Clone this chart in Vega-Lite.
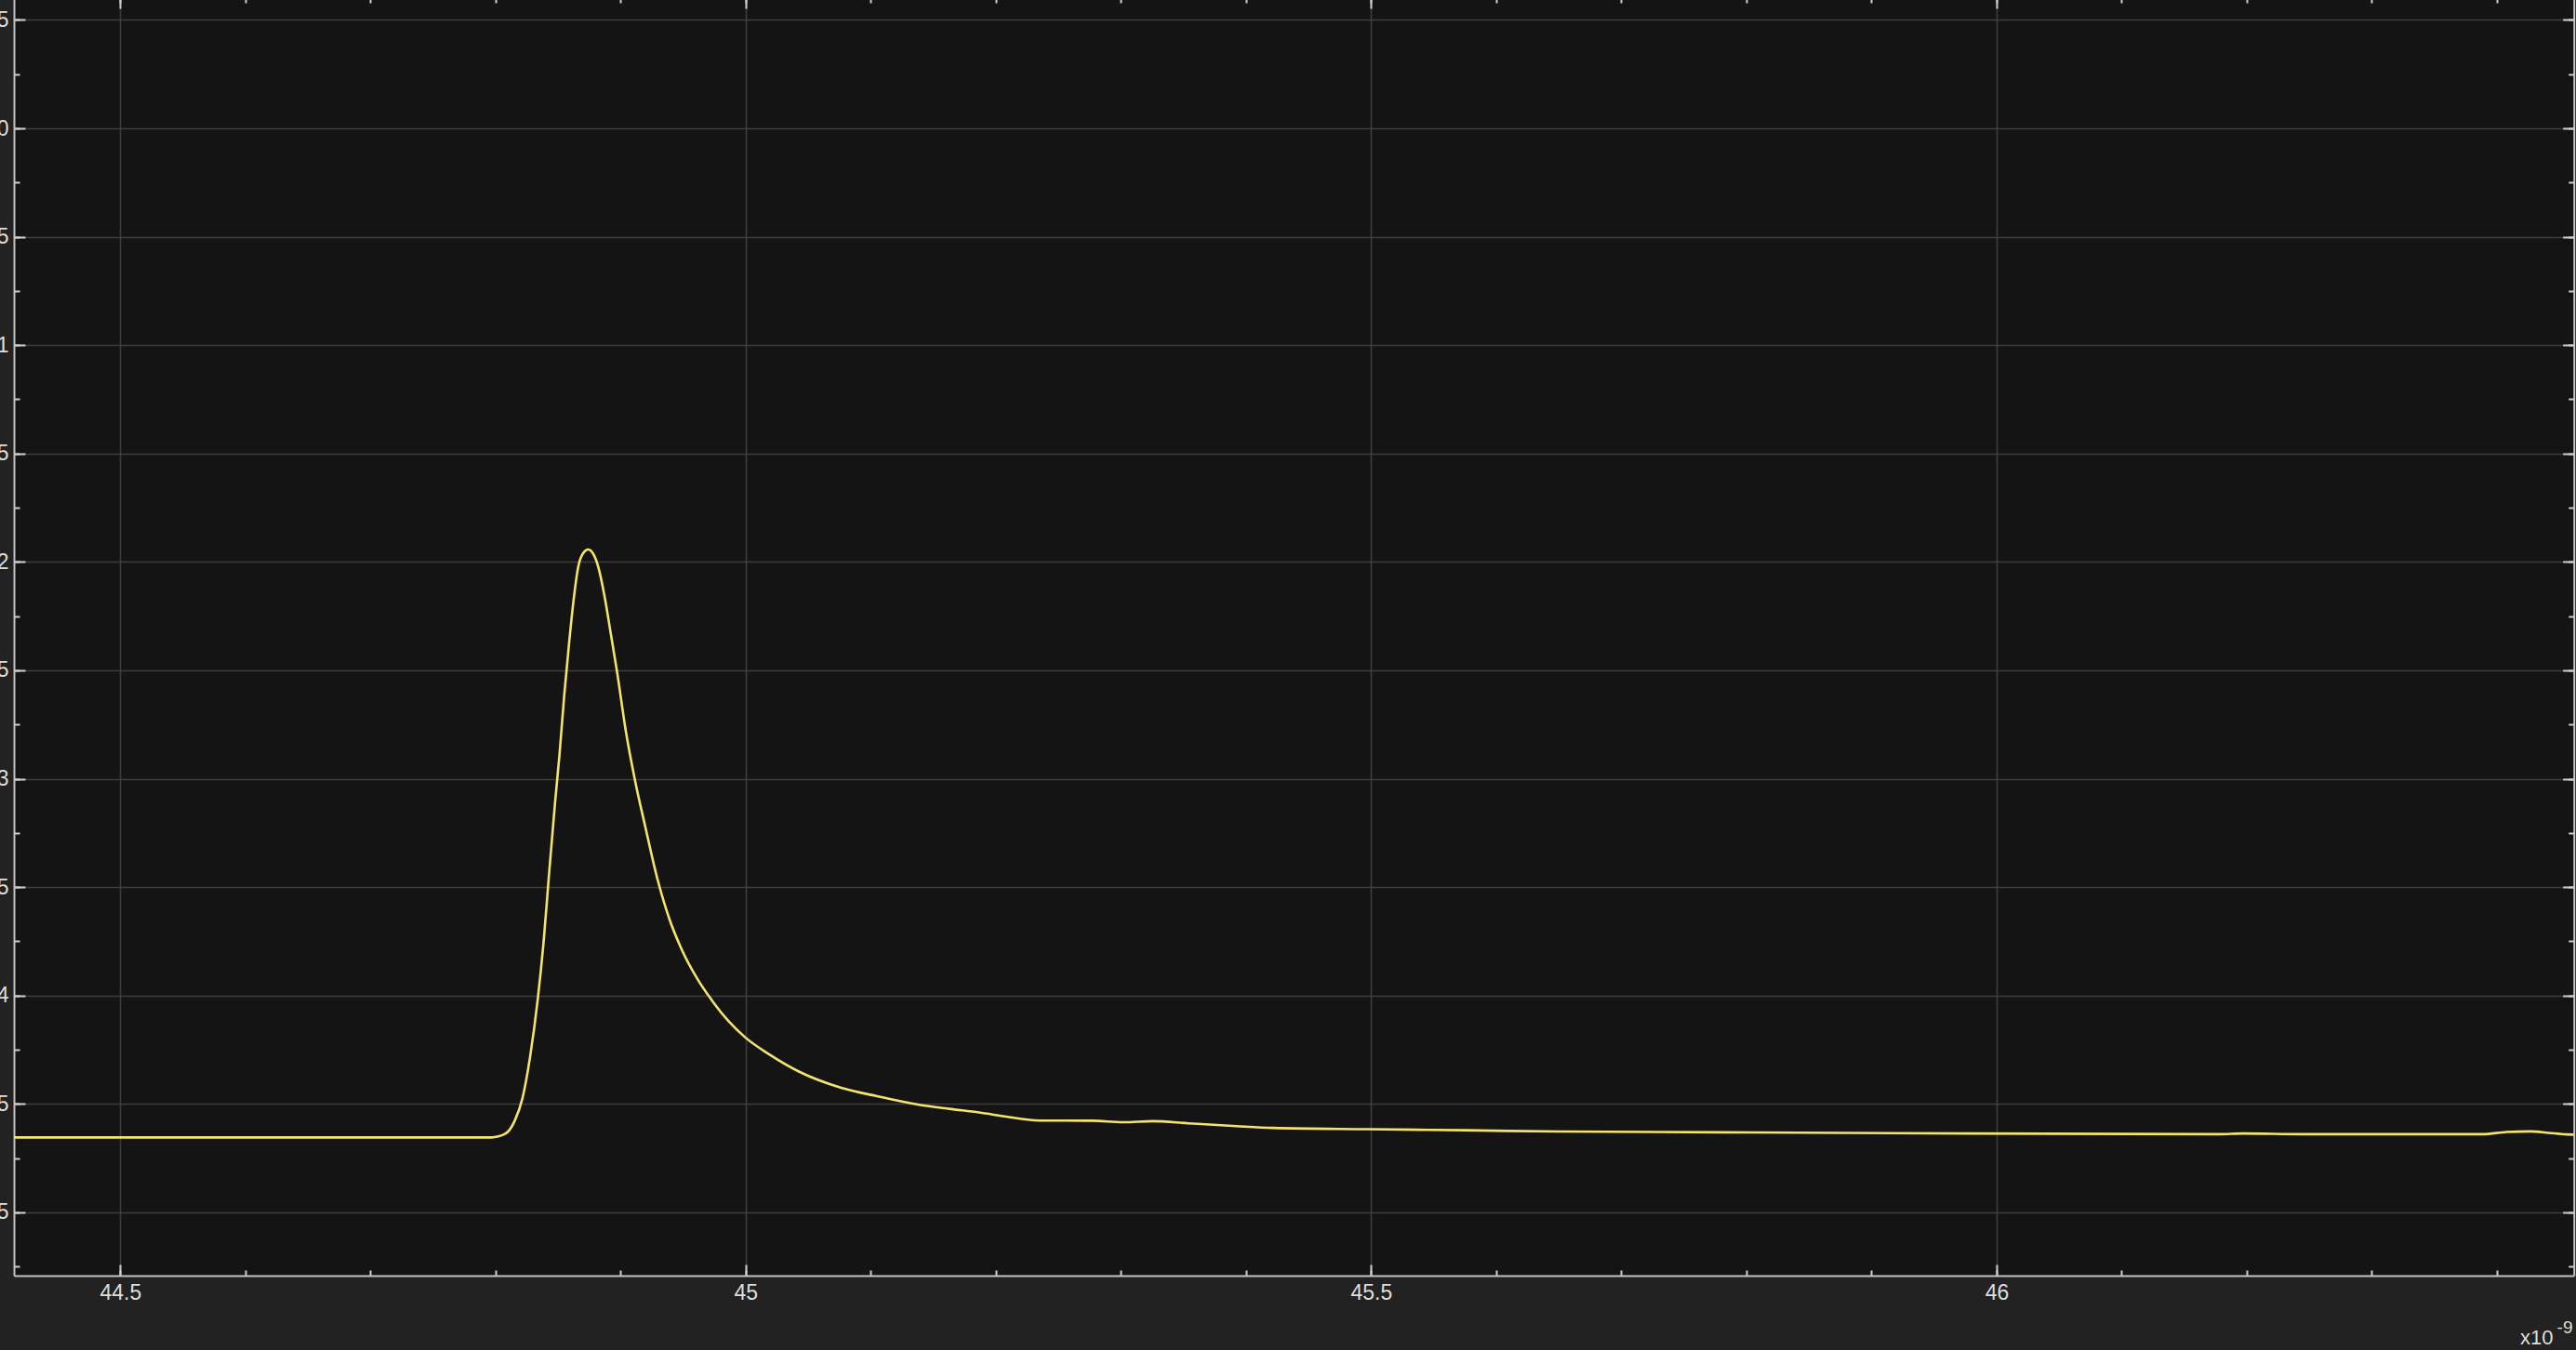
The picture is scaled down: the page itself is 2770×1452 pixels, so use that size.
{
  "$schema": "https://vega.github.io/schema/vega-lite/v6.json",
  "autosize": {"type": "none"},
  "width": 2752.7,
  "height": 1375,
  "padding": {"left": 15, "top": -3, "right": 2.3, "bottom": 80},
  "background": "#222222",
  "config": {
    "view": {"stroke": null, "fill": "#141414"},
    "font": "Liberation Sans",
    "axis": {
      "zindex": 0,
      "domainColor": "#c4c4c4",
      "domainWidth": 2,
      "tickColor": "#cfcfcf",
      "tickWidth": 2,
      "gridColor": "#3e3e3e",
      "gridWidth": 1.6,
      "labelColor": "#dedede",
      "labelFont": "Liberation Sans",
      "labelFontSize": 23,
      "titleColor": "#dedede",
      "titleFont": "Liberation Sans",
      "titleFontWeight": "normal"
    }
  },
  "data": {
    "values": [
      {"t": 44.415, "v": -4.655},
      {"t": 44.6, "v": -4.655},
      {"t": 44.7966, "v": -4.655},
      {"t": 44.8078, "v": -4.638},
      {"t": 44.8152, "v": -4.58},
      {"t": 44.8215, "v": -4.475},
      {"t": 44.8276, "v": -4.284},
      {"t": 44.8338, "v": -4.015},
      {"t": 44.8388, "v": -3.728},
      {"t": 44.8425, "v": -3.46},
      {"t": 44.8475, "v": -3.115},
      {"t": 44.8512, "v": -2.885},
      {"t": 44.8549, "v": -2.617},
      {"t": 44.8586, "v": -2.387},
      {"t": 44.8624, "v": -2.176},
      {"t": 44.8661, "v": -2.023},
      {"t": 44.8698, "v": -1.962},
      {"t": 44.8742, "v": -1.943},
      {"t": 44.8784, "v": -1.966},
      {"t": 44.8821, "v": -2.023},
      {"t": 44.8871, "v": -2.157},
      {"t": 44.8921, "v": -2.33},
      {"t": 44.897, "v": -2.502},
      {"t": 44.9044, "v": -2.789},
      {"t": 44.9119, "v": -3.019},
      {"t": 44.9193, "v": -3.211},
      {"t": 44.9293, "v": -3.46},
      {"t": 44.9392, "v": -3.651},
      {"t": 44.949, "v": -3.79},
      {"t": 44.9615, "v": -3.925},
      {"t": 44.9739, "v": -4.03},
      {"t": 44.9862, "v": -4.118},
      {"t": 44.9997, "v": -4.194},
      {"t": 45.0189, "v": -4.272},
      {"t": 45.0429, "v": -4.352},
      {"t": 45.0764, "v": -4.426},
      {"t": 45.1051, "v": -4.465},
      {"t": 45.1386, "v": -4.504},
      {"t": 45.1626, "v": -4.523},
      {"t": 45.1866, "v": -4.54},
      {"t": 45.2105, "v": -4.561},
      {"t": 45.2344, "v": -4.577},
      {"t": 45.2775, "v": -4.578},
      {"t": 45.3015, "v": -4.585},
      {"t": 45.3254, "v": -4.58},
      {"t": 45.3541, "v": -4.59},
      {"t": 45.3924, "v": -4.603},
      {"t": 45.4212, "v": -4.611},
      {"t": 45.4978, "v": -4.617},
      {"t": 45.5744, "v": -4.622},
      {"t": 45.6511, "v": -4.628},
      {"t": 45.8043, "v": -4.632},
      {"t": 45.9767, "v": -4.637},
      {"t": 46.1778, "v": -4.64},
      {"t": 46.197, "v": -4.637},
      {"t": 46.2449, "v": -4.64},
      {"t": 46.3886, "v": -4.64},
      {"t": 46.4078, "v": -4.63},
      {"t": 46.4269, "v": -4.627},
      {"t": 46.4413, "v": -4.634},
      {"t": 46.4556, "v": -4.641},
      {"t": 46.4615, "v": -4.642}
    ]
  },
  "resolve": {"axis": {"x": "independent", "y": "independent"}},
  "layer": [
    {
      "mark": {"type": "line", "strokeOpacity": 0},
      "encoding": {
        "x": {
          "field": "t", "type": "quantitative",
          "scale": {"domain": [44.415, 46.4615], "nice": false, "zero": false},
          "axis": {"orient": "top", "values": [44.5, 45, 45.5, 46], "labels": false, "grid": false, "domain": false, "tickSize": -12, "title": null}
        },
        "y": {
          "field": "v", "type": "quantitative",
          "scale": {"domain": [-5.2925, 0.605], "nice": false, "zero": false},
          "axis": {"orient": "right", "values": [-5, -4.5, -4, -3.5, -3, -2.5, -2, -1.5, -1, -0.5, 0, 0.5], "labels": false, "grid": false, "domain": true, "tickSize": -12, "title": null}
        }
      }
    },
    {
      "mark": {"type": "line", "strokeOpacity": 0},
      "encoding": {
        "x": {
          "field": "t", "type": "quantitative",
          "axis": {"orient": "top", "values": [44.5, 44.6, 44.7, 44.8, 44.9, 45, 45.1, 45.2, 45.3, 45.4, 45.5, 45.6, 45.7, 45.8, 45.9, 46, 46.1, 46.2, 46.3, 46.4], "labels": false, "grid": false, "domain": false, "tickSize": -6, "title": null}
        },
        "y": {
          "field": "v", "type": "quantitative",
          "axis": {"orient": "right", "values": [-5.25, -5, -4.75, -4.5, -4.25, -4, -3.75, -3.5, -3.25, -3, -2.75, -2.5, -2.25, -2, -1.75, -1.5, -1.25, -1, -0.75, -0.5, -0.25, 0, 0.25, 0.5], "labels": false, "grid": false, "domain": false, "tickSize": -6, "title": null}
        }
      }
    },
    {
      "mark": {"type": "line", "strokeOpacity": 0},
      "encoding": {
        "x": {
          "field": "t", "type": "quantitative",
          "axis": {"orient": "bottom", "values": [44.5, 44.6, 44.7, 44.8, 44.9, 45, 45.1, 45.2, 45.3, 45.4, 45.5, 45.6, 45.7, 45.8, 45.9, 46, 46.1, 46.2, 46.3, 46.4], "labels": false, "grid": false, "domain": false, "tickSize": -6,
            "title": "-9", "titleFontSize": 19, "titleX": 2751, "titleY": 61, "titleAlign": "right", "titleBaseline": "alphabetic", "titleAnchor": null}
        },
        "y": {
          "field": "v", "type": "quantitative",
          "axis": {"orient": "left", "values": [-5.25, -5, -4.75, -4.5, -4.25, -4, -3.75, -3.5, -3.25, -3, -2.75, -2.5, -2.25, -2, -1.75, -1.5, -1.25, -1, -0.75, -0.5, -0.25, 0, 0.25, 0.5], "labels": false, "grid": false, "domain": false, "tickSize": -6, "title": null}
        }
      }
    },
    {
      "mark": {"type": "line", "color": "#f5e46c", "strokeWidth": 2.6, "interpolate": "monotone"},
      "encoding": {
        "x": {
          "field": "t", "type": "quantitative",
          "axis": {"orient": "bottom", "values": [44.5, 45, 45.5, 46], "format": "~g", "grid": true, "domain": true, "tickSize": -12, "labelPadding": 19,
            "title": "x10", "titleFontSize": 22, "titleX": 2730, "titleY": 73, "titleAlign": "right", "titleBaseline": "alphabetic", "titleAnchor": null}
        },
        "y": {
          "field": "v", "type": "quantitative",
          "axis": {"orient": "left", "values": [-5, -4.5, -4, -3.5, -3, -2.5, -2, -1.5, -1, -0.5, 0, 0.5], "format": "~g", "grid": true, "domain": true, "tickSize": -12, "labelPadding": 18, "title": null}
        }
      }
    }
  ]
}
